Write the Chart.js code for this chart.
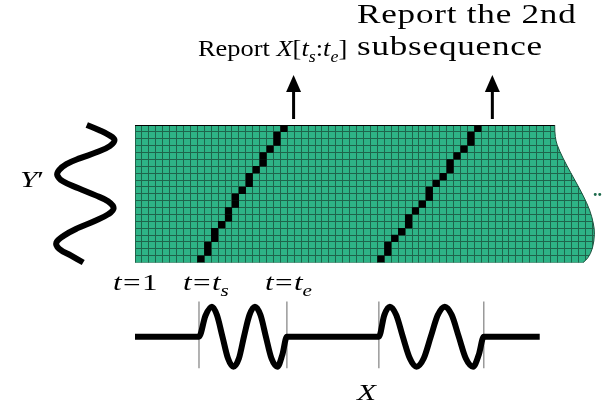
<!DOCTYPE html>
<html>
<head>
<meta charset="utf-8">
<script src="https://cdn.jsdelivr.net/npm/chart.js@4.4.1/dist/chart.umd.min.js"></script>
<style>
  body { margin: 0; background: #fff; }
  #wrap { position: relative; width: 608px; height: 410px; overflow: hidden;
          font-family: "Liberation Serif", "Times New Roman", serif; color: #000; }
  canvas { position: absolute; }
  .lbl { position: absolute; font-size: 24px; line-height: 1; white-space: nowrap;
         transform-origin: 0 0; transform: scaleX(1.3); }
  .lbl i { font-style: italic; }
  .lbl sub { font-size: 0.68em; vertical-align: -0.35em; line-height: 0; font-style: italic; }
  .eq { margin: 0 1px; }
  .big { font-size: 27px; letter-spacing: 0.6px; transform: scaleX(1.3); }
</style>
</head>
<body>
<div id="wrap">
  <canvas id="grid" width="608" height="410" style="left:0;top:0"></canvas>
  <canvas id="yWave" width="90" height="157" style="left:40px;top:115px"></canvas>
  <canvas id="xWave" width="608" height="90" style="left:0;top:290px"></canvas>

  <div class="lbl" style="left:198px;top:35.6px;transform:scaleX(1.1)">Report <i>X</i>[<i>t</i><sub>s</sub>:<i>t</i><sub>e</sub>]</div>
  <div class="lbl big" style="left:357px;top:1px">Report the 2nd</div>
  <div class="lbl big" style="left:357px;top:33px">subsequence</div>
  <div class="lbl" style="left:20px;top:166.6px"><i>Y</i>′</div>
  <div class="lbl" style="left:113px;top:269.6px"><i>t</i><span class="eq">=</span>1</div>
  <div class="lbl" style="left:183px;top:269.6px"><i>t</i><span class="eq">=</span><i>t</i><sub>s</sub></div>
  <div class="lbl" style="left:265px;top:269.6px"><i>t</i><span class="eq">=</span><i>t</i><sub>e</sub></div>
  <div class="lbl" style="left:357px;top:379.6px"><i>X</i></div>
  <div class="lbl" style="left:593px;top:181px;font-size:18px;color:#1d6b4c;font-weight:bold;transform:none">..</div>
</div>

<script>
// matrix size in cells
const gridCols = 67;
const gridRows = 20;

// warping paths: column of the black cell in each row, top row first
const path1Cols = [21, 20, 20, 19, 18, 18, 17, 16, 16, 15, 14, 14, 13, 13, 12, 11, 11, 10, 10, 9];
const path2Cols = [49, 48, 48, 47, 46, 45, 45, 44, 43, 42, 42, 41, 40, 39, 39, 38, 37, 36, 36, 35];

// torn right edge of the matrix (column reached at a given row)
const edgeRows = [0, 1.9, 3.8, 5.8, 8.0, 10.2, 12.4, 14.3, 15.8, 18.0, 19.4, 20];
const edgeCols = [60.6, 60.6, 61.3, 62.3, 63.5, 64.7, 65.7, 66.2, 66.4, 66.1, 65.4, 64.7];

// arrows above the matrix
const arrowCols = [22.9, 51.6];

// query Y' drawn down the left side
const yWaveRows = [0, 0.73, 1.46, 2.19, 3.07, 3.94, 4.82, 5.69, 6.57, 7.3, 8.18, 9.2, 10.2, 11.1, 12.1, 13.0, 14.0, 15.0, 16.1, 17.1, 18.0, 19.0, 20.0];
const yWaveAmp  = [0.06, 0.47, 0.81, 1.0, 0.84, 0.41, -0.16, -0.63, -0.88, -0.94, -0.75, -0.22, 0.34, 0.78, 0.97, 0.78, 0.31, -0.25, -0.72, -0.97, -0.88, -0.47, -0.06];

// stream X along the bottom
const xWaveCols = [0, 9.24, 10.17, 11.11, 11.83, 12.63, 13.42, 14.21, 15.01, 15.73, 16.52, 17.32, 18.12, 18.9, 19.7, 20.56, 21.28, 21.93,
                   35.21, 36.0, 36.8, 37.73, 38.67, 39.68, 40.65, 41.7, 42.71, 43.72, 44.73, 45.74, 46.75, 47.76, 48.82, 49.64, 50.36, 58.44];
const xWaveAmp  = [0, 0, 0.7, 1, 0.72, 0, -0.72, -1, -0.72, 0, 0.72, 1, 0.72, 0, -0.72, -1, -0.6, 0,
                   0, 0.72, 1, 0.72, 0, -0.72, -1, -0.72, 0, 0.72, 1, 0.72, 0, -0.72, -1, -0.6, 0, 0];

// subsequence boundaries t_s / t_e
const markerCols = [9.24, 21.93, 35.21, 50.36];
const markerTop = 1.17;
const markerBottom = -1.05;

const cellFill = '#2eb386';
const lineColor = '#1f644b';

const toCells = cols => cols.map((c, i) => ({ x: c + 0.5, y: i + 0.5 }));

// fill the torn matrix shape and keep the grid inside it
const tornShape = {
  id: 'tornShape',
  beforeDraw(chart) {
    const { ctx, chartArea: a, scales: { x, y } } = chart;
    const pts = edgeCols.map((c, i) => [x.getPixelForValue(c), y.getPixelForValue(edgeRows[i])]);
    const edge = () => {
      ctx.lineTo(pts[0][0], pts[0][1]);
      for (let i = 1; i < pts.length - 1; i++) {
        const mx = (pts[i][0] + pts[i + 1][0]) / 2, my = (pts[i][1] + pts[i + 1][1]) / 2;
        ctx.quadraticCurveTo(pts[i][0], pts[i][1], mx, my);
      }
      ctx.lineTo(pts[pts.length - 1][0], pts[pts.length - 1][1]);
    };
    const path = () => {
      ctx.beginPath();
      ctx.moveTo(a.left, a.top);
      edge();
      ctx.lineTo(a.left, a.bottom);
      ctx.closePath();
    };
    path();
    ctx.fillStyle = cellFill;
    ctx.fill();
    ctx.beginPath();
    ctx.moveTo(pts[0][0], pts[0][1]);
    edge();
    ctx.strokeStyle = '#1c4f3c';
    ctx.lineWidth = 1;
    ctx.stroke();
    ctx.save();
    path();
    ctx.clip();
  },
  beforeDatasetsDraw(chart) {
    chart.ctx.restore();
  }
};

const arrows = {
  id: 'arrows',
  afterDraw(chart) {
    const { ctx, chartArea: a, scales: { x } } = chart;
    ctx.save();
    ctx.fillStyle = '#000';
    arrowCols.forEach(c => {
      const px = x.getPixelForValue(c);
      ctx.fillRect(px - 1.5, a.top - 35, 3, 29);
      ctx.beginPath();
      ctx.moveTo(px, a.top - 50);
      ctx.lineTo(px - 7.5, a.top - 33);
      ctx.lineTo(px + 7.5, a.top - 33);
      ctx.closePath();
      ctx.fill();
    });
    ctx.restore();
  }
};

const cellRadius = ctx => {
  const s = ctx.chart.scales.x;
  return (s.getPixelForValue(1) - s.getPixelForValue(0)) / Math.SQRT2 + 0.2;
};

new Chart(document.getElementById('grid'), {
  type: 'scatter',
  data: {
    datasets: [path1Cols, path2Cols].map(cols => ({
      data: toCells(cols),
      pointStyle: 'rect',
      pointRadius: cellRadius,
      pointHoverRadius: cellRadius,
      backgroundColor: '#000',
      borderWidth: 0
    }))
  },
  options: {
    responsive: false,
    animation: false,
    events: [],
    layout: { padding: { left: 135, top: 125, right: 9, bottom: 147.5 } },
    plugins: { legend: { display: false }, tooltip: { enabled: false } },
    scales: {
      x: {
        type: 'linear', min: 0, max: gridCols,
        ticks: { display: false, stepSize: 1, maxTicksLimit: 200 },
        grid: { color: lineColor, lineWidth: 1, drawTicks: false },
        border: { display: false }
      },
      y: {
        type: 'linear', min: 0, max: gridRows, reverse: true,
        ticks: { display: false, stepSize: 1, maxTicksLimit: 200 },
        grid: { color: c => c.tick && c.tick.value === 0 ? '#000' : lineColor, lineWidth: 1, drawTicks: false },
        border: { display: false }
      }
    }
  },
  plugins: [tornShape, arrows]
});

new Chart(document.getElementById('yWave'), {
  type: 'scatter',
  data: {
    datasets: [{
      data: yWaveRows.map((r, i) => ({ x: yWaveAmp[i], y: r })),
      showLine: true,
      borderColor: '#000',
      borderWidth: 6,
      tension: 0.4,
      pointRadius: 0,
      clip: false
    }]
  },
  options: {
    responsive: false,
    animation: false,
    events: [],
    layout: { padding: { left: 15.5, right: 15.5, top: 10, bottom: 9.5 } },
    plugins: { legend: { display: false }, tooltip: { enabled: false } },
    scales: {
      x: { type: 'linear', min: -1, max: 1, display: false },
      y: { type: 'linear', min: 0, max: gridRows, reverse: true, display: false }
    }
  }
});

new Chart(document.getElementById('xWave'), {
  type: 'scatter',
  data: {
    datasets: [{
      data: xWaveCols.map((c, i) => ({ x: c, y: xWaveAmp[i] })),
      showLine: true,
      borderColor: '#000',
      borderWidth: 6,
      cubicInterpolationMode: 'monotone',
      pointRadius: 0,
      clip: false
    }].concat(markerCols.map(c => ({
      data: [{ x: c, y: markerTop }, { x: c, y: markerBottom }],
      showLine: true,
      borderColor: '#9a9a9a',
      borderWidth: 1.5,
      pointRadius: 0,
      clip: false
    })))
  },
  options: {
    responsive: false,
    animation: false,
    events: [],
    layout: { padding: { left: 135, right: 9, top: 10.7, bottom: 7.3 } },
    plugins: { legend: { display: false }, tooltip: { enabled: false } },
    scales: {
      x: { type: 'linear', min: 0, max: gridCols, display: false },
      y: { type: 'linear', min: -1.2, max: 1.2, display: false }
    }
  }
});
</script>
</body>
</html>
